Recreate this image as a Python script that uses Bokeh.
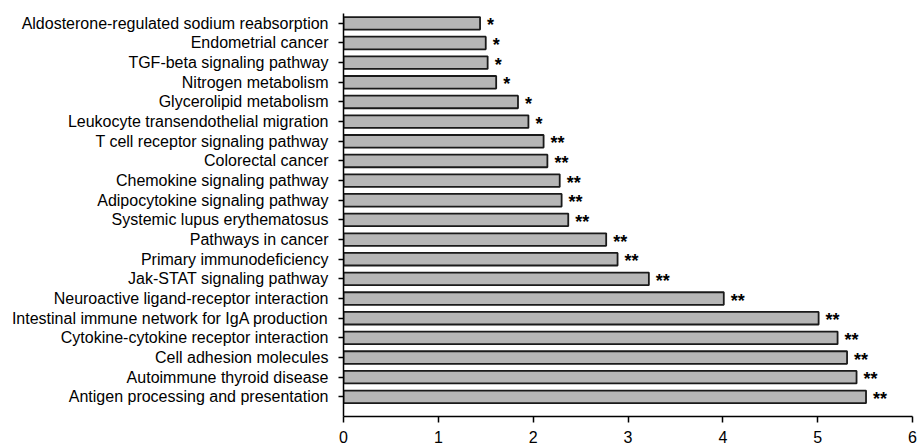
from bokeh.plotting import figure
from bokeh.models import ColumnDataSource, FixedTicker, Range1d
from bokeh.core.properties import value
from bokeh.embed import file_html
from bokeh.resources import INLINE

# Top-to-bottom order as shown
categories = [
    "Aldosterone-regulated sodium reabsorption",
    "Endometrial cancer",
    "TGF-beta signaling pathway",
    "Nitrogen metabolism",
    "Glycerolipid metabolism",
    "Leukocyte transendothelial migration",
    "T cell receptor signaling pathway",
    "Colorectal cancer",
    "Chemokine signaling pathway",
    "Adipocytokine signaling pathway",
    "Systemic lupus erythematosus",
    "Pathways in cancer",
    "Primary immunodeficiency",
    "Jak-STAT signaling pathway",
    "Neuroactive ligand-receptor interaction",
    "Intestinal immune network for IgA production",
    "Cytokine-cytokine receptor interaction",
    "Cell adhesion molecules",
    "Autoimmune thyroid disease",
    "Antigen processing and presentation",
]
values = [1.44, 1.50, 1.52, 1.61, 1.84, 1.95, 2.11, 2.15, 2.28, 2.30, 2.37,
          2.77, 2.89, 3.22, 4.01, 5.01, 5.21, 5.31, 5.41, 5.51]
stars = ["*", "*", "*", "*", "*", "*", "**", "**", "**", "**", "**",
         "**", "**", "**", "**", "**", "**", "**", "**", "**"]
x_ticks = [0, 1, 2, 3, 4, 5, 6]

n = len(categories)
positions = [n - 1 - i for i in range(n)]

src = ColumnDataSource(dict(y=positions, right=values, cat=categories, star=stars))

FONT = "Liberation Sans"

p = figure(width=920, height=445, output_backend="svg", toolbar_location=None,
           x_range=Range1d(0, 6), y_range=Range1d(-1, n - 0.5),
           min_border_left=343, min_border_right=8, min_border_top=13, min_border_bottom=27)
p.outline_line_color = None
p.grid.visible = False

p.hbar(y="y", left=0, right="right", height=0.64, source=src,
       fill_color="#b6b6b6", line_color="#1a1a1a", line_width=1.8)

p.text(x="right", y="y", text="star", source=src, x_offset=7, y_offset=2,
       text_align="left", text_baseline="middle",
       text_font=value(FONT), text_font_size="18px", text_font_style="bold",
       text_color="black")

ya = p.yaxis[0]
ya.ticker = FixedTicker(ticks=positions)
ya.major_label_overrides = {pos: cat for pos, cat in zip(positions, categories)}
ya.major_label_text_font = FONT
ya.major_label_text_font_size = "16px"
ya.major_label_text_color = "black"
ya.major_label_standoff = 10
ya.major_tick_out = 5
ya.major_tick_in = 0
ya.minor_tick_line_color = None
ya.axis_line_width = 1.5
ya.major_tick_line_width = 1.5

xa = p.xaxis[0]
xa.ticker = FixedTicker(ticks=x_ticks)
xa.major_label_text_font = FONT
xa.major_label_text_font_size = "16px"
xa.major_label_text_color = "black"
xa.major_label_standoff = 8
xa.major_tick_out = 6
xa.major_tick_in = 0
xa.minor_tick_line_color = None
xa.axis_line_width = 1.5
xa.major_tick_line_width = 1.5

open("out.html", "w").write(file_html(p, INLINE))
